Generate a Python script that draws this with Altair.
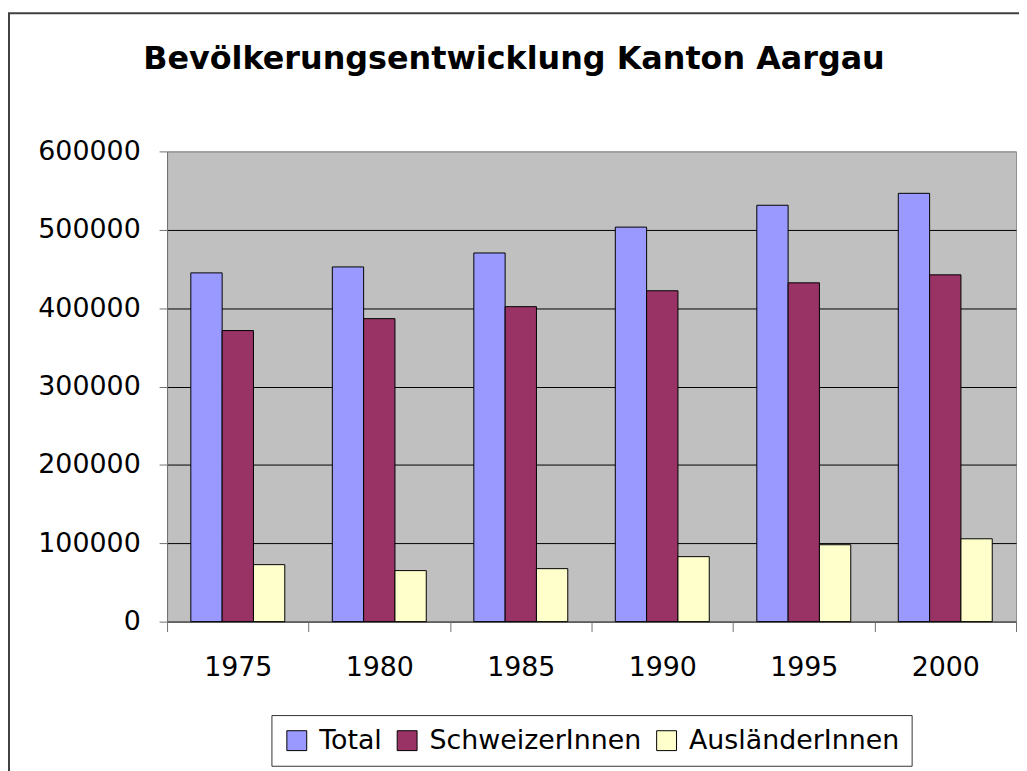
import altair as alt
import pandas as pd

title_text = "Bevölkerungsentwicklung Kanton Aargau"
years = ["1975", "1980", "1985", "1990", "1995", "2000"]
series = ["Total", "SchweizerInnen", "AusländerInnen"]
total = [445000, 452600, 470400, 503400, 531300, 546500]
schweizer = [371400, 386600, 401900, 422200, 432300, 442500]
auslaender = [72700, 65100, 67600, 82900, 98100, 105700]
colors = ["#9999FF", "#993366", "#FFFFCC"]
y_ticks = [0, 100000, 200000, 300000, 400000, 500000, 600000]

rows = []
for i, yr in enumerate(years):
    for s, vals in zip(series, [total, schweizer, auslaender]):
        rows.append({"Jahr": yr, "Gruppe": s, "Wert": vals[i]})
df = pd.DataFrame(rows)

bars = alt.Chart(df).mark_bar(stroke="black", strokeWidth=1).encode(
    x=alt.X("Jahr:N", sort=years, title=None,
            scale=alt.Scale(paddingInner=0, paddingOuter=0),
            axis=alt.Axis(labelAngle=0, labelFont="DejaVu Sans", labelFontSize=27,
                          labelColor="black", labelPadding=23, tickSize=10,
                          tickColor="#707070", domainColor="#707070", tickBand="extent",
                          grid=False)),
    xOffset=alt.XOffset("Gruppe:N", sort=series,
                        scale=alt.Scale(paddingInner=0, paddingOuter=0.759)),
    y=alt.Y("Wert:Q", title=None,
            scale=alt.Scale(domain=[0, 600000], nice=False),
            axis=alt.Axis(values=y_ticks, format="d", labelFont="DejaVu Sans",
                          labelFontSize=27, labelColor="black", labelPadding=19,
                          tickSize=8, tickColor="#707070", domainColor="#707070",
                          grid=True,
                          gridColor={"condition": {"test": "datum.value >= 600000", "value": "#909090"},
                                     "value": "black"},
                          gridOpacity=1)),
    color=alt.Color("Gruppe:N", sort=series,
                    scale=alt.Scale(domain=series, range=colors),
                    legend=alt.Legend(title=None, orient="none", legendX=105, legendY=567,
                                      direction="horizontal", symbolType="square",
                                      symbolSize=400, symbolStrokeColor="black",
                                      symbolStrokeWidth=1, labelFont="DejaVu Sans",
                                      labelFontSize=27, labelColor="black", labelOffset=9,
                                      columnPadding=11, padding=12, strokeColor="#333333",
                                      fillColor="white", labelLimit=400)),
)

frame = alt.Chart(pd.DataFrame({"a": [0]})).mark_rect(
    fill="transparent", stroke="#404040", strokeWidth=2
).encode(x=alt.value(-159), x2=alt.value(900), y=alt.value(-139), y2=alt.value(700))

title = alt.Chart(pd.DataFrame({"t": [title_text]})).mark_text(
    font="DejaVu Sans", fontSize=32, fontWeight="bold", align="center",
    baseline="alphabetic", color="black"
).encode(text="t:N", x=alt.value(349), y=alt.value(-83))

chart = alt.layer(frame, bars, title).properties(
    width=854, height=473,
    autosize=alt.AutoSizeParams(type="none"),
    padding={"left": 160, "top": 142, "right": 3, "bottom": 148},
    background="white",
).configure_view(fill="#C0C0C0", stroke="#909090", strokeWidth=1)

chart.save("out.html", embed_options={"renderer": "svg", "actions": False})
